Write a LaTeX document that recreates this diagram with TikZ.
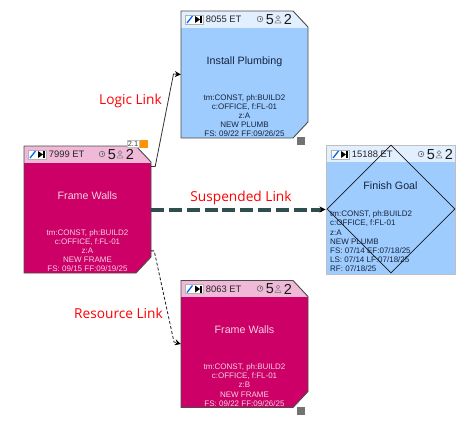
\documentclass[tikz,border=0pt]{standalone}
\usepackage{fontspec}
\setmainfont{Liberation Sans}
\newfontfamily\linkfont{Open Sans}
\usetikzlibrary{calc,arrows.meta,shapes.geometric}
\definecolor{framebody}{HTML}{CC0066}
\definecolor{framehead}{HTML}{F0B9D8}
\definecolor{frametext}{HTML}{F8D0E4}
\definecolor{goalbody}{HTML}{9FCCFF}
\definecolor{goalhead}{HTML}{E2EFFF}
\definecolor{goaltext}{HTML}{14233C}
\definecolor{suspend}{HTML}{2F4F4F}
\newcommand{\taskoutline}{(-63.5,-63.5) -- (48.5,-63.5) -- (63.5,-47.5) -- (63.5,47.5) -- (48.5,63.5) -- (-63.5,63.5) -- cycle}
\tikzset{
	taskbox/.style={rectangle,inner sep=0pt,minimum width=127pt,minimum height=127pt},
	headstrip/.style={path picture={\fill[#1] (path picture bounding box.north west) rectangle
		([yshift=-16.5pt]path picture bounding box.north east);}},
	titletext/.style={font=\fontsize{10.7}{13}\selectfont},
	infotext/.style={font=\fontsize{8}{9.15}\selectfont,anchor=south,inner sep=0pt},
	idtext/.style={font=\fontsize{9.4}{11}\selectfont,anchor=west,inner sep=0pt,text=black!85},
	bigtext/.style={font=\fontsize{14.5}{16}\selectfont,text=black!90},
	linktext/.style={font=\linkfont\fontsize{13.7}{16}\selectfont,text=red},
	corner/.style={rectangle,minimum size=8pt,inner sep=0pt,fill=black!55},
	arrowtip/.style={-{Stealth[length=6pt,width=6pt,black]}},
}
\begin{document}
\begin{tikzpicture}[x=1pt,y=-1pt]
	\useasboundingbox (0,0) rectangle (475,423);
	\node[taskbox] (install) at (244.5,74.5) {};
	\node[taskbox] (walls) at (87.5,209.5) {};
	\node[taskbox] (framez) at (244.5,344) {};
	\node[rectangle,inner sep=0pt,minimum width=129pt,minimum height=129pt,fill=goalbody,
		draw=black!25,line width=0.9pt,headstrip=goalhead] (finish) at (390.5,209.5) {};
	\foreach \n/\body/\head in {install/goalbody/goalhead,walls/framebody/framehead,framez/framebody/framehead}{
		\begin{scope}[shift={(\n.center)}]
			\fill[\body] \taskoutline;
			\begin{scope}
				\clip \taskoutline;
				\fill[\head] (-63.5,-63.5) rectangle (63.5,-47);
			\end{scope}
			\draw[black!70,line width=0.9pt] \taskoutline;
		\end{scope}
	}
	\foreach \n/\id/\off in {install/8055/0,walls/7999/-1,framez/8063/0,finish/15188/15}{
		\begin{scope}[shift={(\n.center)}]
			\fill[white] (-59.5,-59.5) rectangle (-41.5,-50.5);
			\draw[black!30,line width=0.4pt] (-59.5,-59.5) rectangle (-41.5,-50.5);
			\draw[blue!60!cyan,line width=1.3pt] (-57.5,-51.5) -- (-52,-58.5);
			\fill[black] (-49.5,-58.5) -- (-44.5,-55) -- (-49.5,-51.5) -- cycle;
			\fill[black] (-44.7,-58.5) rectangle (-43,-51.5);
			\node[idtext] (\n id) at (-38.8,-55) {\id{} ET};
			\draw[black!60,line width=0.6pt] (15.5+\off,-55.5) circle (2.8pt);
			\draw[black!60,line width=0.5pt] (15.5+\off,-57) -- (15.5+\off,-55.5) -- (16.8+\off,-55.5);
			\node[bigtext] (\n five) at (25.5+\off,-55) {5};
			\draw[black!45,line width=0.6pt] (33.5+\off,-57) circle (1.9pt);
			\draw[black!45,line width=0.6pt] (30.5+\off,-51.5) .. controls (30.5+\off,-55) and (36.5+\off,-55) .. (36.5+\off,-51.5) -- cycle;
			\node[bigtext] (\n two) at (43.5+\off,-55) {2};
		\end{scope}
	}
	\node[titletext,text=goaltext] (installtitle) at (244.5,61.5) {Install Plumbing};
	\node[infotext,text=goaltext,align=center] (installinfo) at (244.5,137)
		{tm:CONST, ph:BUILD2\\c:OFFICE, f:FL-01\\z:A\\NEW PLUMB\\FS: 09/22 FF:09/26/25};
	\node[titletext,text=frametext] (wallstitle) at (87.5,195.5) {Frame Walls};
	\node[infotext,text=frametext,align=center] (wallsinfo) at (87.5,272)
		{tm:CONST, ph:BUILD2\\c:OFFICE, f:FL-01\\z:A\\NEW FRAME\\FS: 09/15 FF:09/19/25};
	\node[titletext,text=frametext] (frameztitle) at (244.5,330) {Frame Walls};
	\node[infotext,text=frametext,align=center] (frameinfo) at (244.5,406.5)
		{tm:CONST, ph:BUILD2\\c:OFFICE, f:FL-01\\z:B\\NEW FRAME\\FS: 09/22 FF:09/26/25};
	\node[titletext,text=goaltext] (finishtitle) at (390.5,185.7) {Finish Goal};
	\node[infotext,text=goaltext,align=left,anchor=south west] (finishinfo) at (330,272)
		{tm:CONST, ph:BUILD2\\c:OFFICE, f:FL-01\\z:A\\NEW PLUMB\\FS: 07/14 EF:07/18/25\\LS: 07/14 LF:07/18/25\\RF: 07/18/25};
	\node[diamond,aspect=1,inner sep=0pt,minimum width=128pt,minimum height=128pt,draw=black!90,line width=0.8pt] (finishmark) at (391,209) {};
	\node[corner] (installcorner) at (301,141) {};
	\node[corner] (framecorner) at (301,411) {};
	\node[rectangle,minimum size=8pt,inner sep=0pt,fill=orange!85!yellow] (wallsflag) at (144,143.5) {};
	\node[rectangle,draw=black!25,fill=white,line width=0.4pt,minimum width=12pt,minimum height=7.5pt,inner sep=0pt,
		font=\fontsize{7.5}{8}\selectfont,text=black!75] (wallstag) at (133,143.5) {2.1};
	\coordinate (logicbend) at (173.5,74);
	\coordinate (resourcebend) at (174,342);
	\draw[arrowtip,black!80,line width=0.8pt] (walls.34) -- ++(4,0) -- (logicbend) -- (install.west);
	\draw[arrowtip,black!90,line width=0.8pt,dash pattern=on 3pt off 2pt] (walls.-33) -- ++(3,0) -- (resourcebend) -- (framez.west);
	\draw[arrowtip,suspend,line width=4pt,dash pattern=on 13pt off 4.8pt] (walls.east) -- (finish.west);
	\node[linktext] (logiclink) at (130.5,101) {Logic Link};
	\node[linktext] (suspendlink) at (241,198) {Suspended Link};
	\node[linktext] (resourcelink) at (118.5,313) {Resource Link};
\end{tikzpicture}
\end{document}
